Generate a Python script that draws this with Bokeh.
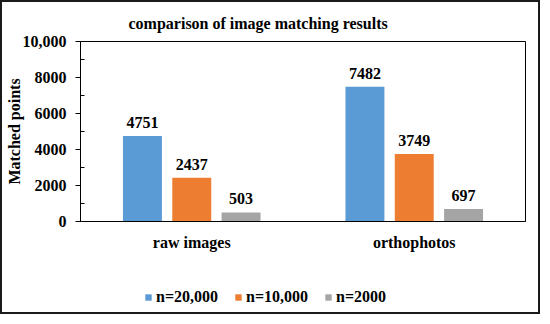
from bokeh.plotting import figure
from bokeh.models import (ColumnDataSource, FixedTicker, LabelSet, Legend, LegendItem)
from bokeh.layouts import column
from bokeh.transform import dodge
from bokeh.embed import file_html
from bokeh.resources import INLINE

categories = ["raw images", "orthophotos"]
series_names = ["n=20,000", "n=10,000", "n=2000"]
n20000 = [4751, 7482]
n10000 = [2437, 3749]
n2000 = [503, 697]
y_ticks = [0, 2000, 4000, 6000, 8000, 10000]
y_tick_labels = ["0", "2000", "4000", "6000", "8000", "10,000"]

colors = ["#5B9BD5", "#ED7D31", "#A5A5A5"]
FONT = "Liberation Serif"

src = ColumnDataSource(dict(cat=categories, a=n20000, b=n10000, c=n2000,
                            ta=[str(v) for v in n20000],
                            tb=[str(v) for v in n10000],
                            tc=[str(v) for v in n2000]))

p = figure(x_range=categories, y_range=(0, 10000), width=536, height=255,
           output_backend="svg", toolbar_location=None,
           min_border_left=78, min_border_right=13, min_border_top=39,
           min_border_bottom=36)
p.x_range.range_padding = 0
p.title.text = "comparison of image matching results"
p.title.align = "left"
p.title.offset = 48
p.title.standoff = 20
p.title.text_font = FONT
p.title.text_font_style = "bold"
p.title.text_font_size = "16px"
p.title.text_color = "#000000"

p.xgrid.visible = False
p.ygrid.visible = False
p.outline_line_color = "#000000"
p.outline_line_width = 1
p.background_fill_color = "white"
p.border_fill_color = "white"

offsets = [-0.2216, 0.0, 0.2216]
keys = ["a", "b", "c"]
tkeys = ["ta", "tb", "tc"]
for off, k, tk, col in zip(offsets, keys, tkeys, colors):
    p.vbar(x=dodge("cat", off, range=p.x_range), top=k, width=0.175,
           source=src, fill_color=col, line_color=None)
    lbl = LabelSet(x=dodge("cat", off, range=p.x_range), y=k, text=tk, source=src,
                   text_align="center", text_baseline="alphabetic", y_offset=8,
                   text_font=FONT, text_font_style="bold", text_font_size="16px",
                   text_color="#000000")
    p.add_layout(lbl)

# y axis
p.yaxis.ticker = FixedTicker(ticks=y_ticks, minor_ticks=[1000, 3000, 5000, 7000, 9000])
p.yaxis.major_label_overrides = {t: s for t, s in zip(y_ticks, y_tick_labels)}
p.yaxis.axis_label = "Matched points"
p.yaxis.axis_label_text_font = FONT
p.yaxis.axis_label_text_font_style = "bold"
p.yaxis.axis_label_text_font_size = "16px"
p.yaxis.axis_label_text_color = "#000000"
p.yaxis.axis_label_standoff = -3
p.yaxis.major_label_text_font = FONT
p.yaxis.major_label_text_font_style = "bold"
p.yaxis.major_label_text_font_size = "16px"
p.yaxis.major_label_text_color = "#000000"
p.yaxis.major_label_standoff = 9
p.yaxis.major_tick_out = 5
p.yaxis.major_tick_in = 0
p.yaxis.minor_tick_out = 0
p.yaxis.minor_tick_in = 4
p.yaxis.axis_line_color = "#000000"
p.yaxis.major_tick_line_color = "#000000"
p.yaxis.minor_tick_line_color = "#000000"

# x axis
p.xaxis.major_tick_line_color = None
p.xaxis.minor_tick_line_color = None
p.xaxis.axis_line_color = "#000000"
p.xaxis.major_label_text_font = FONT
p.xaxis.major_label_text_font_style = "bold"
p.xaxis.major_label_text_font_size = "16px"
p.xaxis.major_label_text_color = "#000000"
p.xaxis.major_label_standoff = 6

# legend strip: same series as zero-size bars outside the strip's view,
# used only to supply the legend swatches
q = figure(width=536, height=55, x_range=categories, y_range=(1, 0),
           output_backend="svg", toolbar_location=None,
           x_axis_location=None, y_axis_location=None, min_border=0)
q.xgrid.visible = False
q.ygrid.visible = False
q.outline_line_color = None
q.background_fill_color = "white"
q.border_fill_color = "white"
items = []
for k, col, name in zip(keys, colors, series_names):
    r = q.vbar(x=dodge("cat", 20, range=q.x_range), top=k, bottom=k, width=0,
               source=src, fill_color=col, line_color=None)
    items.append(LegendItem(label=name, renderers=[r]))
legend = Legend(items=items, orientation="horizontal", location=(64, 6),
                glyph_width=8, glyph_height=8, label_standoff=4, spacing=16,
                padding=0, margin=0, border_line_color=None,
                background_fill_alpha=0,
                label_text_font=FONT, label_text_font_style="bold",
                label_text_font_size="16px", label_text_color="#000000")
q.add_layout(legend, "center")

layout = column(p, q, spacing=0, styles={"border": "2px solid #1a1a1a"})
open("out.html", "w").write(file_html(layout, INLINE))
